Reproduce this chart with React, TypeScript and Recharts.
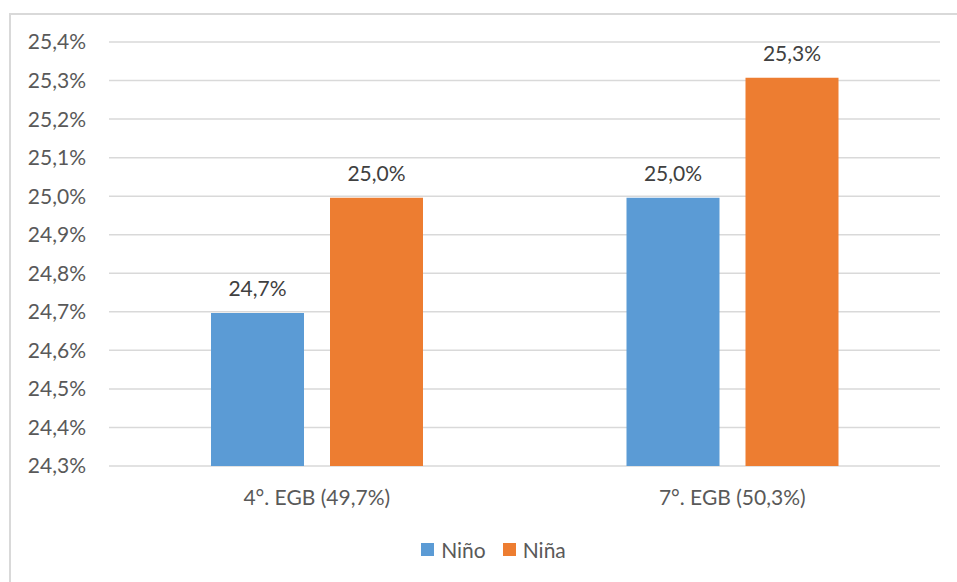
import React from 'react';
import { BarChart, Bar, XAxis, YAxis, CartesianGrid, Legend, LabelList } from 'recharts';

const categories = ['4°. EGB (49,7%)', '7°. EGB (50,3%)'];
const ninoValues = [24.697, 24.996];
const ninaValues = [24.996, 25.307];
const yTicks = [24.3, 24.4, 24.5, 24.6, 24.7, 24.8, 24.9, 25.0, 25.1, 25.2, 25.3, 25.4];
const seriesOrder = ['nino', 'nina'];

const data = categories.map((c, i) => ({ name: c, nino: ninoValues[i], nina: ninaValues[i] }));

const fmt = (v: number) => v.toFixed(1).replace('.', ',') + '%';
const FONT = 'Lato, Carlito, Calibri, sans-serif';

const LegendContent = (props: any) => {
  const payload = [...(props.payload || [])].sort(
    (a: any, b: any) => seriesOrder.indexOf(a.dataKey) - seriesOrder.indexOf(b.dataKey)
  );
  return (
    <div style={{ display: 'flex', justifyContent: 'center', alignItems: 'center', height: 30, paddingLeft: 47, fontFamily: FONT, fontSize: 21, color: '#595959' }}>
      {payload.map((p: any, i: number) => (
        <div key={i} style={{ display: 'flex', alignItems: 'center', marginRight: i === 0 ? 17 : 0 }}>
          <div style={{ width: 13, height: 13, background: p.color, marginRight: 7 }} />
          <span>{p.value}</span>
        </div>
      ))}
    </div>
  );
};

export default function App() {
  return (
    <div style={{ position: 'absolute', left: 0, top: 0, width: 957, height: 582, overflow: 'hidden', background: '#fff' }}>
      <div style={{ position: 'absolute', left: 9, top: 13, width: 1000, height: 600, borderTop: '2px solid #d9d9d9', borderLeft: '2px solid #d9d9d9' }} />
      <div style={{ position: 'absolute', left: 0, top: 0 }}>
        <BarChart width={957} height={582} data={data} margin={{ top: 42, right: 17, left: 0, bottom: 18 }} barGap={26}>
          <CartesianGrid vertical={false} stroke="#d9d9d9" strokeWidth={1.5} />
          <XAxis dataKey="name" axisLine={false} tickLine={false} tickSize={0} tickMargin={24} height={68}
            tick={{ fill: '#595959', fontSize: 21, fontFamily: FONT }} />
          <YAxis domain={[24.3, 25.4]} ticks={yTicks} allowDataOverflow width={109} axisLine={false} tickLine={false}
            tickSize={0} tickMargin={23} tickFormatter={fmt} interval={0}
            tick={{ fill: '#595959', fontSize: 21, fontFamily: FONT }} />
          <Legend verticalAlign="bottom" height={30} content={<LegendContent />} />
          <Bar dataKey="nino" name="Niño" fill="#5b9bd5" barSize={93} isAnimationActive={false}>
            <LabelList dataKey="nino" position="top" offset={17} formatter={(v: any) => fmt(Number(v))}
              style={{ fill: '#404040', fontSize: 21, fontFamily: FONT }} />
          </Bar>
          <Bar dataKey="nina" name="Niña" fill="#ed7d31" barSize={93} isAnimationActive={false}>
            <LabelList dataKey="nina" position="top" offset={17} formatter={(v: any) => fmt(Number(v))}
              style={{ fill: '#404040', fontSize: 21, fontFamily: FONT }} />
          </Bar>
        </BarChart>
      </div>
    </div>
  );
}
